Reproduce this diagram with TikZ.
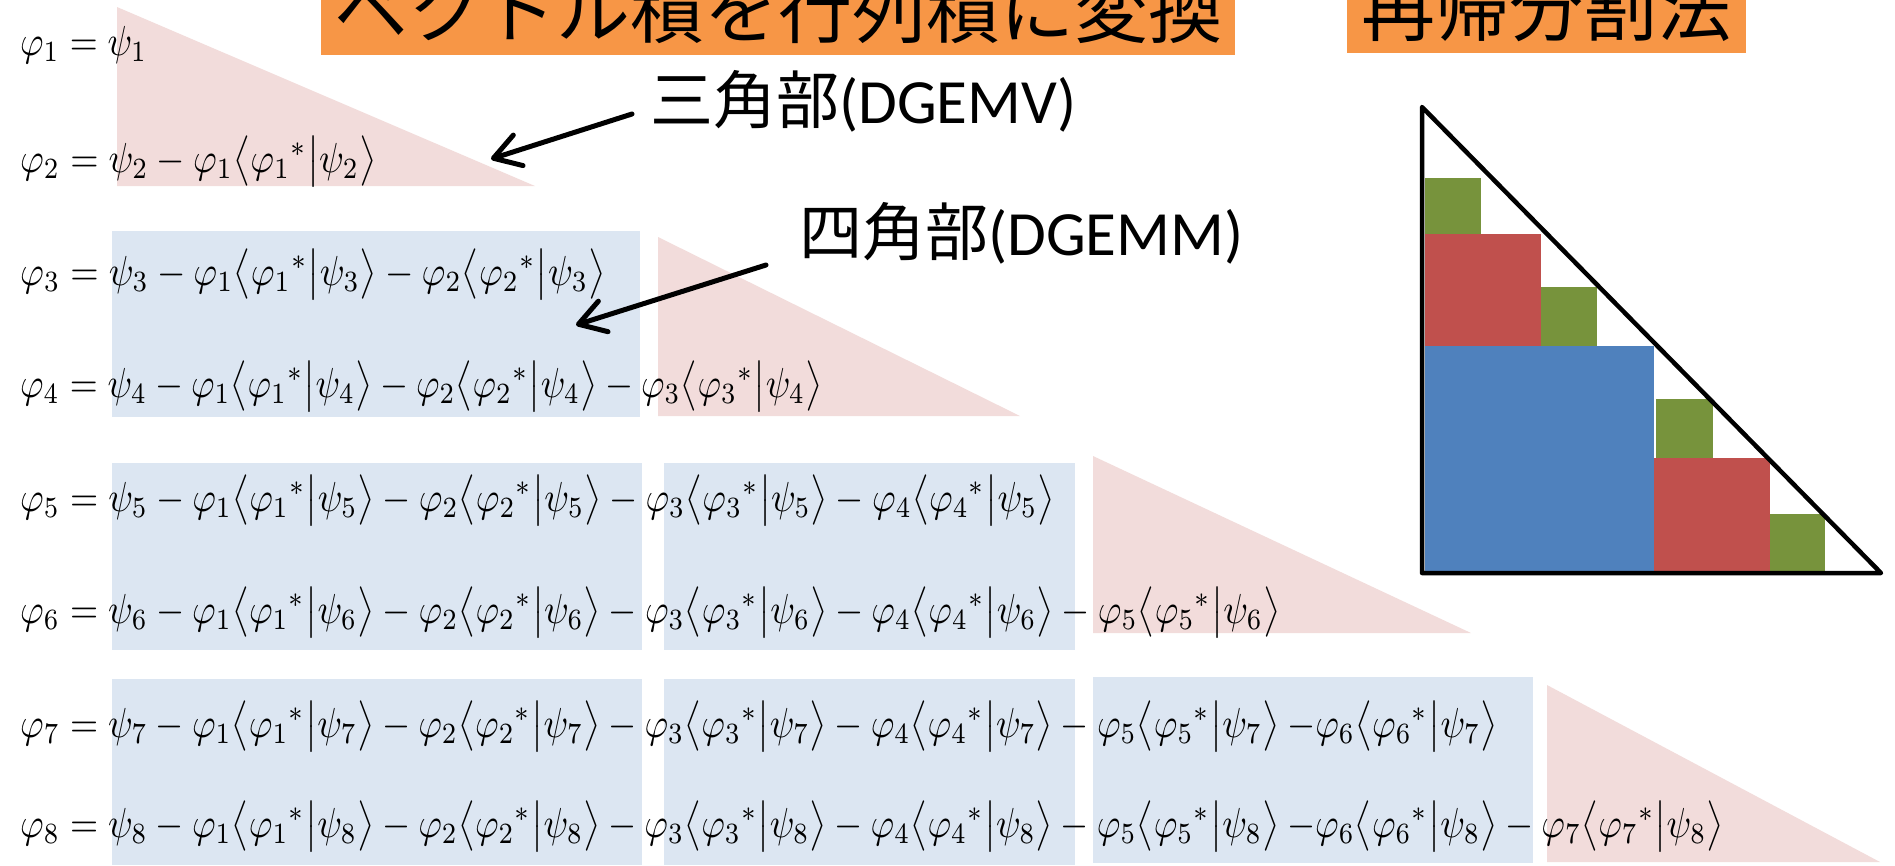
\documentclass[tikz,border=0pt]{standalone}
\usepackage{fontspec}
\usepackage{graphicx}
\usetikzlibrary{arrows.meta}
\newfontfamily\jpfont{Noto Sans CJK JP}
\newfontfamily\latfont{Carlito}
\definecolor{orng}{HTML}{F79646}
\definecolor{pinkfill}{HTML}{F2DCDB}
\definecolor{bluefill}{HTML}{DCE6F2}
\definecolor{bigblue}{HTML}{4F81BD}
\definecolor{bigred}{HTML}{C0504D}
\definecolor{biggreen}{HTML}{77933C}
\newcommand{\bk}[2]{\bigl\langle{\varphi_{#1}}^{*}\big|\psi_{#2}\bigr\rangle}
\newcommand{\tm}[2]{\varphi_{#1}\bk{#1}{#2}}
\newcommand{\eqbox}[2]{\resizebox{#1}{4.2\height}{$#2$}}
\begin{document}
\begin{tikzpicture}[x=1pt,y=-1pt,
  pinktri/.style={fill=pinkfill},
  bluebox/.style={fill=bluefill},
  eqnode/.style={anchor=base west, inner sep=0pt},
  titlebox/.style={fill=orng, inner xsep=0pt, inner ysep=9pt, text height=65pt, text depth=9pt,
     font=\jpfont\fontsize{74pt}{80pt}\selectfont, anchor=base},
  partlabel/.style={anchor=base west, inner sep=0pt, font=\fontsize{63pt}{70pt}\selectfont},
  callout/.style={line width=5pt, line cap=round, -{Straight Barb[length=26pt,width=32pt,round]}},
  blockframe/.style={line width=4.5pt, line join=round, line cap=round}]
\useasboundingbox (0,0) rectangle (1895,865);
\clip (0,0) rectangle (1895,865);

% pink triangles
\fill[pinktri] (117,7) -- (117,186) -- (535,186) -- cycle;
\fill[pinktri] (658,237) -- (658,416) -- (1020,416) -- cycle;
\fill[pinktri] (1093,456) -- (1093,633) -- (1471,633) -- cycle;
\fill[pinktri] (1547,685) -- (1547,862) -- (1880,862) -- cycle;

% blue boxes
\fill[bluebox] (112,231) rectangle (640,417);
\fill[bluebox] (112,463) rectangle (642,650);
\fill[bluebox] (664,463) rectangle (1075,650);
\fill[bluebox] (112,679) rectangle (642,865);
\fill[bluebox] (664,679) rectangle (1075,865);
\fill[bluebox] (1093,677) rectangle (1533,863);

% equations
\node[eqnode] (e1) at (20,55) {\eqbox{127pt}{\varphi_1=\psi_1}};
\node[eqnode] (e2) at (20,172) {\eqbox{356pt}{\varphi_2=\psi_2-\tm{1}{2}}};
\node[eqnode] (e3) at (20,285) {\eqbox{585pt}{\varphi_3=\psi_3-\tm{1}{3}-\tm{2}{3}}};
\node[eqnode] (e4) at (20,397) {\eqbox{802pt}{\varphi_4=\psi_4-\tm{1}{4}-\tm{2}{4}-\tm{3}{4}}};
\node[eqnode] (e5) at (20,511) {\eqbox{1034pt}{\varphi_5=\psi_5-\tm{1}{5}-\tm{2}{5}-\tm{3}{5}-\tm{4}{5}}};
\node[eqnode] (e6) at (20,623) {\eqbox{1260pt}{\varphi_6=\psi_6-\tm{1}{6}-\tm{2}{6}-\tm{3}{6}-\tm{4}{6}-\tm{5}{6}}};
\node[eqnode] (e7) at (20,737) {\eqbox{1477pt}{\varphi_7=\psi_7-\tm{1}{7}-\tm{2}{7}-\tm{3}{7}-\tm{4}{7}-\tm{5}{7}\:{-}\tm{6}{7}}};
\node[eqnode] (e8) at (20,837) {\eqbox{1703pt}{\varphi_8=\psi_8-\tm{1}{8}-\tm{2}{8}-\tm{3}{8}-\tm{4}{8}-\tm{5}{8}\:{-}\tm{6}{8}-\tm{7}{8}}};

% titles
\node[titlebox, minimum width=914pt] (tvec) at (778,37) {ベクトル積を行列積に変換};
\node[titlebox, minimum width=399pt] (trec) at (1546.5,35) {再帰分割法};

% part labels
\node[partlabel] (ltri) at (650,123) {{\jpfont 三角部}{\latfont (DGEMV)}};
\node[partlabel] (lsq) at (799,255) {{\jpfont 四角部}{\latfont (DGEMM)}};

% callout arrows
\coordinate (a1s) at (632,114);
\coordinate (a1e) at (491,159);
\coordinate (a2s) at (766,265);
\coordinate (a2e) at (576,325);
\draw[callout] (a1s) -- (a1e);
\draw[callout] (a2s) -- (a2e);

% recursive partition blocks
\fill[biggreen] (1425,178) rectangle (1481,234);
\fill[bigred] (1425,234) rectangle (1541,346);
\fill[biggreen] (1541,287) rectangle (1597,346);
\fill[bigblue] (1425,346) rectangle (1654,573);
\fill[biggreen] (1656,399) rectangle (1713,458);
\fill[bigred] (1654,458) rectangle (1770,571);
\fill[biggreen] (1770,514) rectangle (1825,571);
\draw[blockframe] (1422,107) -- (1422,573) -- (1881,573) -- cycle;
\end{tikzpicture}
\end{document}
